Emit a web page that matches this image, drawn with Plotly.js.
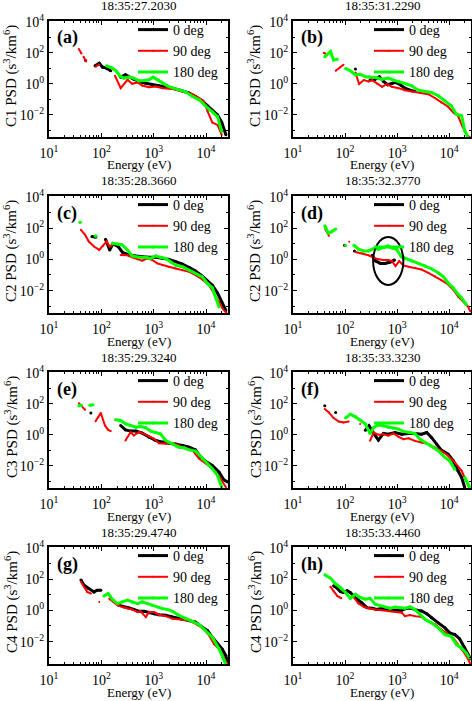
<!DOCTYPE html>
<html><head><meta charset="utf-8">
<script src="https://cdn.plot.ly/plotly-3.0.1.min.js"></script>
<style>html,body{margin:0;padding:0;background:#fff}#chart{width:472px;height:701px}</style>
</head><body><div id="chart"></div>
<script>
// ---- DATA: log10(Energy [eV]) and log10(PSD [s^3/km^6]); null = gap ----
// series 0 = 0 deg (black), 1 = 90 deg (red), 2 = 180 deg (green)
const a0E=[1.70,null,1.88,1.96,2.02,2.10,2.18,null,2.37,2.46,2.54,2.62,2.72,2.85,2.97,3.10,3.23,3.36,3.52,3.68,3.80,3.93,4.03,4.12,4.22,4.30,4.38];
const a0P=[1.5,null,1.16,1.33,1.08,1.01,0.84,null,0.43,0.58,0.43,0.30,0.15,0.04,-0.06,-0.13,-0.22,-0.28,-0.43,-0.60,-0.82,-1.10,-1.42,-1.72,-2.0,-2.49,-3.29];
const a1E=[1.57,1.62,null,1.66,1.71,null,1.89,1.96,null,2.26,2.37,2.50,2.59,2.69,2.78,2.91,3.04,3.17,3.36,3.55,3.74,3.87,3.96,4.03,4.12,4.22,4.30];
const a1P=[2.24,1.95,null,1.75,1.44,null,1.10,1.25,null,0.52,-0.28,0.26,0,0.09,-0.11,-0.22,-0.17,-0.28,-0.34,-0.49,-0.67,-0.92,-1.14,-1.78,-2.49,-2.65,-3.29];
const a2E=[2.10,2.21,2.29,2.35,2.43,2.53,2.62,2.72,2.82,2.91,2.99,3.07,3.17,3.26,3.36,3.48,3.61,3.74,3.87,3.99,4.12,4.22,4.30];
const a2P=[1.16,1.01,0.80,0.52,0.37,0.43,0.37,0.19,0.22,0.26,0.43,0.26,0.04,-0.13,-0.26,-0.39,-0.52,-0.82,-1.03,-1.42,-1.78,-2.11,-3.08];

const b0E=[2.20,null,2.48,2.57,2.66,2.74,2.82,2.90,2.97,3.06,3.15,3.25,3.34];
const b0P=[0.95,null,0.24,0.28,0.45,0.15,-0.06,0.02,0.09,-0.06,-0.28,-0.41,-0.49];
const b1E=[1.59,1.62,null,1.82,1.90,1.97,null,2.20,2.27,2.36,2.45,2.52,2.61,2.71,2.80,2.90,3.03,3.15,3.28,3.44,3.60,3.73,3.85,3.98,4.08,4.17,4.25,4.33,4.40];
const b1P=[2.0,1.95,null,0.84,1.05,1.23,null,0.73,-0.02,0.24,0.15,0.24,0.02,-0.19,-0.02,-0.19,-0.28,-0.41,-0.49,-0.56,-0.67,-0.92,-1.2,-1.48,-1.85,-2.06,-2.71,-3.25,-3.46];
const b2E=[1.61,1.72,1.78,1.85,null,2.01,2.10,2.20,2.29,2.39,2.45,2.58,2.71,2.83,2.93,3.03,3.15,3.28,3.41,3.54,3.66,3.79,3.92,4.04,4.14,4.24,4.30,4.36];
const b2P=[1.74,2.09,1.53,1.59,null,0.99,0.84,0.58,0.62,0.45,0.45,0.41,0.30,0.37,0.24,0.15,0.02,-0.13,-0.41,-0.49,-0.56,-0.77,-1.10,-1.42,-1.96,-2.06,-3.03,-3.42];

const c0E=[1.82,1.89,null,2.08,2.16,2.22,2.32,2.41,2.53,2.66,2.78,2.91,3.04,3.17,3.29,3.42,3.55,3.68,3.80,3.93,4.03,4.12,4.22,4.30,4.38];
const c0P=[1.46,1.42,null,1.29,0.60,0.99,0.82,0.43,0.28,0.22,0.17,0.13,0.13,0.06,0,-0.15,-0.30,-0.52,-0.75,-1.08,-1.38,-1.66,-2.15,-2.73,-3.27];
const c1E=[1.61,1.69,1.76,1.86,1.96,2.03,2.10,2.16,2.24,null,2.37,2.50,2.59,2.69,2.78,2.88,2.97,3.07,3.17,3.29,3.42,3.55,3.68,3.80,3.93,4.06,4.15,4.25,4.32,4.40];
const c1P=[1.89,1.57,1.14,0.82,0.60,0.86,1.14,0.82,0.99,null,0.28,0.26,0.13,0,-0.09,0.06,-0.04,-0.26,-0.37,-0.47,-0.58,-0.69,-0.80,-1.01,-1.29,-1.66,-2.19,-2.73,-3.16,-3.48];
const c2E=[1.59,1.60,null,1.88,1.90,null,2.21,2.31,2.40,2.50,2.59,2.72,2.85,2.94,3.04,3.13,3.23,3.32,3.42,3.55,3.68,3.80,3.93,4.03,4.12,4.18,4.25];
const c2P=[2.37,2.37,null,1.50,1.50,null,1.03,0.99,0.92,0.60,0.22,0.13,0.13,0.06,0.22,0.13,0.06,-0.15,-0.37,-0.47,-0.69,-0.90,-1.12,-1.55,-1.81,-2.41,-3.05];

const d0E=[1.99,null,2.18,null,2.52,2.59,2.68,2.77,2.87,2.95];
const d0P=[0.90,null,0.54,null,0.26,-0.11,-0.26,-0.26,-0.17,-0.04];
const d1E=[1.62,1.69,null,2.08,null,2.20,2.32,2.45,2.55,2.64,2.74,2.83,2.90,2.97,3.04,3.12,3.22,3.34,3.47,3.60,3.73,3.85,3.98,4.08,4.17,4.27,4.36,4.41];
const d1P=[1.94,1.51,null,1.12,null,0.47,0.39,0.26,0.11,0,-0.04,-0.04,-0.11,-0.43,-0.11,-0.39,-0.47,-0.54,-0.65,-0.86,-1.08,-1.33,-1.61,-1.94,-2.37,-2.69,-3.01,-3.33];
const d2E=[1.61,1.68,1.74,1.82,null,2.01,null,2.17,2.26,2.36,2.45,2.55,2.64,2.74,2.82,2.90,2.99,3.08,3.17,3.28,3.41,3.54,3.66,3.79,3.89,3.98,4.08,4.16,4.24,4.33];
const d2P=[2.15,1.68,1.76,1.94,null,0.90,null,0.90,0.65,0.54,0.54,0.69,0.65,0.75,0.86,0.73,0.65,0.17,0.04,-0.11,-0.26,-0.43,-0.60,-0.86,-1.12,-1.51,-1.83,-2.19,-2.47,-2.90];

const e0E=[1.80,null,2.37,2.46,2.56,2.66,2.78,2.91,3.04,3.17,3.29,3.42,3.55,3.68,3.80,3.90,3.99,4.12,4.25,4.34,4.42];
const e0P=[1.40,null,0.60,0.32,0.24,0.24,0.11,-0.15,-0.37,-0.47,-0.54,-0.58,-0.69,-0.80,-0.97,-1.44,-1.70,-1.98,-2.41,-2.90,-3.05];
const e1E=[1.57,1.69,null,1.89,1.99,2.07,2.13,2.18,null,2.46,2.56,2.62,2.72,2.82,2.91,3.01,3.10,3.23,3.36,3.48,3.61,3.74,3.87,3.99,4.09,4.18,4.28,4.38];
const e1P=[2.04,1.61,null,0.88,1.40,0.60,0.32,0.24,null,-0.37,0.17,-0.04,0.17,0.06,-0.11,-0.26,-0.54,-0.58,-0.54,-0.69,-0.84,-1.01,-1.55,-1.83,-2.09,-2.41,-2.84,-3.38];
const e2E=[1.57,1.62,null,1.78,1.84,null,2.27,2.37,2.46,2.56,2.66,2.75,2.85,2.94,3.04,3.13,3.23,3.36,3.48,3.58,3.68,3.80,3.93,4.03,4.12,4.22,4.30];
const e2P=[1.87,1.91,null,1.91,1.94,null,0.97,0.92,0.71,0.60,0.49,0.54,0.45,0.24,0.17,0.06,-0.37,-0.58,-0.80,-0.84,-0.97,-1.05,-1.55,-1.87,-2.19,-2.62,-3.38];

const f0E=[1.61,null,1.82,null,2.39,2.46,2.55,2.64,2.74,2.83,2.96,3.09,3.22,3.34,3.47,3.57,3.66,3.76,3.85,3.98,4.08,4.17,4.24,4.30];
const f0P=[1.87,null,1.44,null,0.30,0.58,0.09,-0.34,0.09,0.04,0.15,0.04,0.09,0.09,0.04,0.15,-0.17,-0.60,-0.99,-1.25,-1.68,-2.32,-2.75,-3.40];
const f1E=[1.61,1.69,1.78,1.88,1.97,2.07,null,2.29,null,2.48,2.55,2.64,2.74,2.83,2.93,3.03,3.12,3.22,3.34,3.47,3.60,3.73,3.85,3.98,4.11,4.24,4.33,4.39];
const f1P=[1.66,1.44,1.08,0.86,0.80,0.86,null,0.69,null,-0.39,0.15,0,0.04,-0.06,0.09,-0.13,-0.28,-0.22,-0.39,-0.49,-0.60,-0.82,-1.03,-1.35,-1.78,-2.32,-2.97,-3.44];
const f2E=[2.01,2.10,2.20,2.29,2.39,2.48,2.55,2.64,2.74,2.83,2.93,3.03,3.12,3.22,3.34,3.44,3.54,3.66,3.79,3.92,4.01,4.11,null,4.30,4.39];
const f2P=[1.08,1.33,1.16,0.95,0.69,0.09,0.47,0.65,0.58,0.47,0.43,0.37,0.22,0.15,0.09,-0.28,-0.49,-0.71,-1.03,-1.46,-1.68,-2.22,null,-2.75,-3.35];

const g0E=[1.61,1.67,1.76,1.86,1.92,1.99,null,2.34,2.43,2.53,2.62,2.72,2.82,2.91,3.01,3.10,3.23,3.36,3.52,3.68,3.80,3.93,4.03,4.12,4.22,4.31,4.38,4.40];
const g0P=[1.94,1.61,1.40,1.18,1.29,1.29,null,0.32,0.22,0.15,0.06,-0.06,-0.06,-0.15,-0.22,-0.28,-0.32,-0.43,-0.54,-0.65,-0.75,-1.08,-1.29,-1.72,-2.15,-2.47,-2.90,-3.33];
const g1E=[1.61,1.67,1.73,1.80,null,1.96,null,2.15,2.24,2.31,2.40,2.50,2.59,2.69,2.75,2.85,2.91,3.01,3.10,3.23,3.36,3.52,3.68,3.83,3.96,4.06,4.15,4.25,4.32,4.40];
const g1P=[1.83,1.51,1.18,1.08,null,0.54,null,0.75,0.54,0.32,0.22,0.11,0.06,-0.11,-0.06,-0.43,-0.11,-0.11,-0.28,-0.37,-0.54,-0.58,-0.65,-0.92,-1.18,-1.61,-2.15,-2.47,-2.90,-3.40];
const g2E=[2.05,2.13,2.21,2.31,2.40,2.50,2.59,2.69,2.78,2.88,2.97,3.07,3.17,3.26,3.36,3.48,3.61,3.74,3.87,3.99,4.12,4.25,4.34,4.39];
const g2P=[0.92,1.08,0.71,0.43,0.54,0.65,0.54,0.43,0.54,0.43,0.32,0.22,0.11,0.06,-0.06,-0.32,-0.54,-0.71,-0.92,-1.29,-1.72,-2.47,-3.12,-3.55];

const h0E=[1.78,1.85,1.91,1.97,2.04,2.10,2.17,2.23,2.32,2.42,2.52,2.61,2.71,2.80,2.90,2.99,3.09,3.18,3.28,3.38,3.47,3.57,3.66,3.79,3.92,4.01,4.11,4.20,4.30,4.36,4.41];
const h0P=[1.57,1.42,1.20,1.14,1.25,1.14,0.92,0.71,0.49,0.17,0.13,0.06,0.13,0.06,0,0,0,0.13,0.13,0,-0.04,-0.22,-0.47,-0.80,-1.12,-1.44,-1.55,-1.81,-2.41,-2.84,-3.10];
const h1E=[1.72,1.78,1.85,1.93,null,2.17,2.26,2.36,2.45,2.58,2.71,2.83,2.96,3.09,3.15,3.25,3.34,3.47,3.60,3.73,3.85,3.98,4.08,4.17,4.27,4.36,4.41];
const h1P=[1.51,1.20,0.92,0.77,null,0.82,0.43,0.22,0.13,0.06,0,-0.04,-0.09,-0.15,-0.37,-0.30,-0.37,-0.43,-0.69,-0.90,-1.23,-1.55,-1.76,-2.19,-2.62,-3.10,-3.45];
const h2E=[1.61,1.72,1.82,1.91,2.01,2.10,2.20,2.29,2.39,2.48,2.58,2.68,2.77,2.87,2.96,3.06,3.15,3.25,3.34,3.44,3.54,3.66,3.79,3.92,4.04,4.14,4.24,4.33,4.39];
const h2P=[2.28,2.06,1.68,1.46,1.14,0.77,1.03,0.82,0.71,0.77,0.39,0.28,0.22,0.13,0.22,0.17,0.13,0.22,0.06,-0.26,-0.58,-0.80,-1.12,-1.55,-1.66,-2.19,-2.41,-2.73,-3.05];

// tick positions and labels
const xTickVals=[10,100,1000,10000];
const xTickText=['10<sup>1</sup>','10<sup>2</sup>','10<sup>3</sup>','10<sup>4</sup>'];
const yTickVals=[0.01,1,100,10000];
const yTickText=['10<sup>\u22122</sup>','10<sup>0</sup>','10<sup>2</sup>','10<sup>4</sup>'];

const panelLetters=['(a)','(b)','(c)','(d)','(e)','(f)','(g)','(h)'];
const panelTimes=['18:35:27.2030','18:35:31.2290','18:35:28.3660','18:35:32.3770','18:35:29.3240','18:35:33.3230','18:35:29.4740','18:35:33.4460'];
const spacecraft=['C1','C1','C2','C2','C3','C3','C4','C4'];
const seriesNames=['0 deg','90 deg','180 deg'];
const seriesColors=['#000000','#ff0000','#00ff00'];
const seriesWidths=[3,2,3];
const xLabel='Energy (eV)';

// ---- build ----
const panelSeries=[
 [[a0E,a0P],[a1E,a1P],[a2E,a2P]],
 [[b0E,b0P],[b1E,b1P],[b2E,b2P]],
 [[c0E,c0P],[c1E,c1P],[c2E,c2P]],
 [[d0E,d0P],[d1E,d1P],[d2E,d2P]],
 [[e0E,e0P],[e1E,e1P],[e2E,e2P]],
 [[f0E,f0P],[f1E,f1P],[f2E,f2P]],
 [[g0E,g0P],[g1E,g1P],[g2E,g2P]],
 [[h0E,h0P],[h1E,h1P],[h2E,h2P]]
];
const un=v=>v===null?null:Math.pow(10,v);
const W=472,H=701;
const colX=[[49,228],[293,471]];
const rowY=[[21,137],[196,313],[372,488],[547,664]];
const legendX=[133,369];
const FONT='Liberation Serif, Times New Roman, serif';

const traces=[];
const layout={width:W,height:H,margin:{l:0,r:0,t:0,b:0},paper_bgcolor:'#fff',plot_bgcolor:'#fff',
  showlegend:true,annotations:[],shapes:[],font:{family:FONT,color:'#000'}};

panelSeries.forEach((ser,i)=>{
  const n=i+1, row=Math.floor(i/2), col=i%2;
  const [x0,x1]=colX[col], [yt,yb]=rowY[row];
  const xk=n===1?'xaxis':'xaxis'+n, yk=n===1?'yaxis':'yaxis'+n;
  const xr=n===1?'x':'x'+n, yr=n===1?'y':'y'+n;
  const lg=n===1?'legend':'legend'+n;
  const axCommon={showline:true,linewidth:2,linecolor:'#000',mirror:'allticks',ticks:'inside',ticklen:4,
    tickwidth:1,tickcolor:'#000',showgrid:false,zeroline:false,fixedrange:true,tickmode:'array',
    tickfont:{family:FONT,size:14,color:'#000'}};
  layout[xk]=Object.assign({},axCommon,{type:'log',range:[1,4.42],tickvals:xTickVals,ticktext:xTickText,
    domain:[x0/W,x1/W],anchor:yr,ticklabelstandoff:2,
    minor:{ticks:'inside',ticklen:2,tickcolor:'#000',dtick:'D1',showgrid:false}});
  layout[yk]=Object.assign({},axCommon,{type:'log',range:[-3.43,4.05],tickvals:yTickVals,ticktext:yTickText,
    domain:[1-yb/H,1-yt/H],anchor:xr,
    minor:{ticks:'inside',ticklen:2,tickcolor:'#000',dtick:1,showgrid:false}});
  layout[lg]={x:legendX[col]/W,y:1-(yt-7)/H,xanchor:'left',yanchor:'top',bgcolor:'rgba(0,0,0,0)',borderwidth:0,
    font:{family:FONT,size:14,color:'#000'},tracegroupgap:0,itemwidth:30};
  ser.forEach((s,k)=>{
    traces.push({type:'scatter',mode:'lines+markers',x:s[0].map(un),y:s[1].map(un),xaxis:xr,yaxis:yr,
      name:seriesNames[k],legend:lg,showlegend:true,
      line:{color:seriesColors[k],width:seriesWidths[k]},marker:{color:seriesColors[k],size:seriesWidths[k]},
      connectgaps:false,hoverinfo:'skip'});
  });
  const cx=(x0+x1)/2;
  layout.annotations.push({text:panelTimes[i],xref:'paper',yref:'paper',x:cx/W,y:1-(yt-15)/H,xanchor:'center',yanchor:'middle',
    showarrow:false,font:{family:FONT,size:13,color:'#000'}});
  layout.annotations.push({text:xLabel,xref:'paper',yref:'paper',x:cx/W,y:1-(yb+28)/H,xanchor:'center',yanchor:'middle',
    showarrow:false,font:{family:FONT,size:13,color:'#000'}});
  layout.annotations.push({text:spacecraft[i]+' PSD (s<sup>3</sup>/km<sup>6</sup>)',xref:'paper',yref:'paper',
    x:(x0-38)/W,y:1-(yt+55)/H,xanchor:'center',yanchor:'middle',textangle:-90,
    showarrow:false,font:{family:FONT,size:15,color:'#000'}});
  layout.annotations.push({text:'<b>'+panelLetters[i]+'</b>',xref:'paper',yref:'paper',x:(x0+6)/W,y:1-(yt+17)/H,
    xanchor:'left',yanchor:'middle',showarrow:false,font:{family:FONT,size:18,color:'#000'}});
});

// highlight ellipse in panel (d)
layout.shapes.push({type:'circle',xref:'x4 domain',yref:'y4 domain',x0:0.45,x1:0.62,y0:0.24,y1:0.65,
  line:{color:'#000',width:2}});

Plotly.newPlot('chart',traces,layout,{staticPlot:true,displayModeBar:false});
</script></body></html>
